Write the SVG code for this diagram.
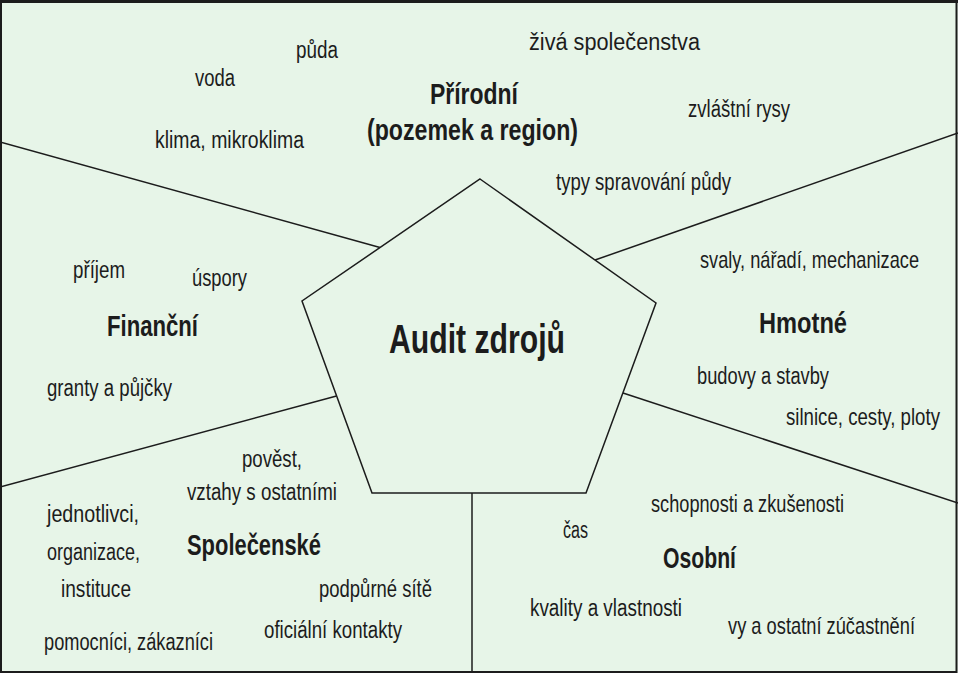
<svg xmlns="http://www.w3.org/2000/svg" width="958" height="673" viewBox="0 0 958 673">
<style>
text{font-family:"Liberation Sans Narrow","Liberation Sans",Arial,sans-serif;fill:#1c1c1c;}
.t{font-size:23px;}
.b{font-size:29px;font-weight:bold;}
.c{font-size:41px;font-weight:bold;}
.ln{stroke:#1c1c1c;stroke-width:1.5;fill:none;}
</style>
<rect x="0" y="0" width="958" height="673" fill="#e7f5e8"/>
<g id="connectors">
<line class="ln" x1="0" y1="142" x2="380" y2="247.5"/>
<line class="ln" x1="595" y1="260" x2="958" y2="133"/>
<line class="ln" x1="623" y1="393" x2="958" y2="503"/>
<line class="ln" x1="336.5" y1="396" x2="0" y2="487"/>
<line class="ln" x1="472" y1="493" x2="472" y2="673"/>
</g>
<g id="center">
<polygon points="480,179 656,303 586,493 372,493 302,301" fill="#e7f5e8" stroke="#1c1c1c" stroke-width="1.5"/>
<text class="c" x="389" y="353" textLength="176" lengthAdjust="spacingAndGlyphs">Audit zdrojů</text>
</g>
<g id="prirodni">
<text class="b" x="430" y="104" textLength="88" lengthAdjust="spacingAndGlyphs">Přírodní</text>
<text class="b" x="367" y="140" textLength="211" lengthAdjust="spacingAndGlyphs">(pozemek a region)</text>
<text class="t" x="296" y="58" textLength="42" lengthAdjust="spacingAndGlyphs">půda</text>
<text class="t" x="195" y="86" textLength="40" lengthAdjust="spacingAndGlyphs">voda</text>
<text class="t" x="155" y="148" textLength="149" lengthAdjust="spacingAndGlyphs">klima, mikroklima</text>
<text class="t" x="529" y="50" textLength="171" lengthAdjust="spacingAndGlyphs">živá společenstva</text>
<text class="t" x="688" y="117" textLength="102" lengthAdjust="spacingAndGlyphs">zvláštní rysy</text>
<text class="t" x="556" y="190" textLength="175" lengthAdjust="spacingAndGlyphs">typy spravování půdy</text>
</g>
<g id="hmotne">
<text class="b" x="759" y="333" textLength="88" lengthAdjust="spacingAndGlyphs">Hmotné</text>
<text class="t" transform="translate(700,268) scale(0.78,1)" x="0" y="0" textLength="280.8" lengthAdjust="spacingAndGlyphs">svaly, nářadí, mechanizace</text>
<text class="t" x="697" y="384" textLength="132" lengthAdjust="spacingAndGlyphs">budovy a stavby</text>
<text class="t" transform="translate(786,425) scale(0.78,1)" x="0" y="0" textLength="197.4" lengthAdjust="spacingAndGlyphs">silnice, cesty, ploty</text>
</g>
<g id="osobni">
<text class="b" x="663" y="568" textLength="73" lengthAdjust="spacingAndGlyphs">Osobní</text>
<text class="t" x="651" y="512" textLength="193" lengthAdjust="spacingAndGlyphs">schopnosti a zkušenosti</text>
<text class="t" x="563" y="538" textLength="25" lengthAdjust="spacingAndGlyphs">čas</text>
<text class="t" x="530" y="616" textLength="152" lengthAdjust="spacingAndGlyphs">kvality a vlastnosti</text>
<text class="t" transform="translate(728,634) scale(0.78,1)" x="0" y="0" textLength="239.7" lengthAdjust="spacingAndGlyphs">vy a ostatní zúčastnění</text>
</g>
<g id="spolecenske">
<text class="b" x="187" y="555" textLength="134" lengthAdjust="spacingAndGlyphs">Společenské</text>
<text class="t" x="242" y="467" textLength="60" lengthAdjust="spacingAndGlyphs">pověst,</text>
<text class="t" x="187" y="500" textLength="150" lengthAdjust="spacingAndGlyphs">vztahy s ostatními</text>
<text class="t" x="47" y="522" textLength="92" lengthAdjust="spacingAndGlyphs">jednotlivci,</text>
<text class="t" x="47" y="560" textLength="93" lengthAdjust="spacingAndGlyphs">organizace,</text>
<text class="t" x="61" y="597" textLength="70" lengthAdjust="spacingAndGlyphs">instituce</text>
<text class="t" x="319" y="597" textLength="113" lengthAdjust="spacingAndGlyphs">podpůrné sítě</text>
<text class="t" x="264" y="638" textLength="138" lengthAdjust="spacingAndGlyphs">oficiální kontakty</text>
<text class="t" x="44" y="650" textLength="169" lengthAdjust="spacingAndGlyphs">pomocníci, zákazníci</text>
</g>
<g id="financni">
<text class="b" x="107" y="336" textLength="91" lengthAdjust="spacingAndGlyphs">Finanční</text>
<text class="t" x="73" y="278" textLength="52" lengthAdjust="spacingAndGlyphs">příjem</text>
<text class="t" x="192" y="286" textLength="55" lengthAdjust="spacingAndGlyphs">úspory</text>
<text class="t" x="47" y="396" textLength="125" lengthAdjust="spacingAndGlyphs">granty a půjčky</text>
</g>
<g id="frame" fill="none" stroke="#1c1c1c">
<rect x="1" y="1.5" width="955.5" height="670.5" stroke-width="2"/>
<line x1="0" y1="1.5" x2="958" y2="1.5" stroke-width="3"/>
</g>
</svg>
